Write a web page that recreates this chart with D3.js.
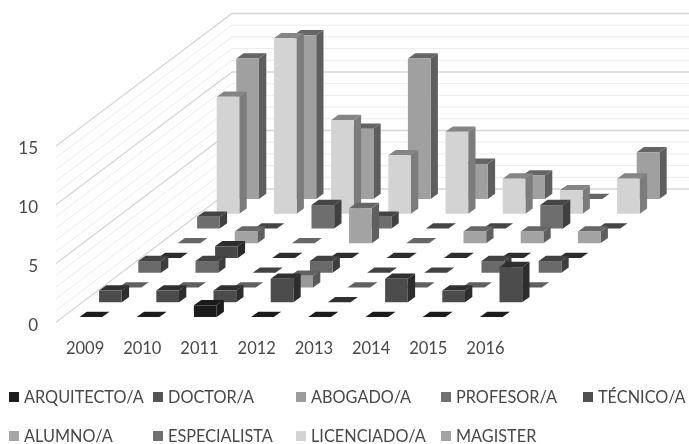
<!DOCTYPE html>
<html>
<head>
<meta charset="utf-8">
<script src="https://cdnjs.cloudflare.com/ajax/libs/d3/7.8.5/d3.min.js"></script>
<style>
  html, body { margin: 0; padding: 0; background: #fff; }
  svg { display: block; filter: blur(0.55px); }
  text { font-family: Lato, sans-serif; fill: #484848; }
  .axis .domain, .axis line { display: none; }
</style>
</head>
<body>
<div id="chart-area"></div>
<script>
// Data
let years = ["2009", "2010", "2011", "2012", "2013", "2014", "2015", "2016"];
let series = ["ARQUITECTO/A", "DOCTOR/A", "ABOGADO/A", "PROFESOR/A", "TÉCNICO/A", "ALUMNO/A", "ESPECIALISTA", "LICENCIADO/A", "MAGISTER"];

let arquitecto   = [0, 0, 1, 0, 0, 0, 0, 0];
let doctor       = [1, 1, 1, 2, 0, 2, 1, 3];
let abogado      = [0, 0, 0, 1, 0, 0, 0, 0];
let profesor     = [1, 1, 0, 1, 0, 0, 1, 1];
let tecnico      = [0, 1, 0, 0, 0, 0, 0, 0];
let alumno       = [0, 1, 0, 3, 0, 1, 1, 1];
let especialista = [1, 0, 2, 1, 0, 0, 2, 0];
let licenciado   = [10, 15, 8, 5, 7, 3, 2, 3];
let magister     = [12, 14, 6, 12, 3, 2, 0, 4];
let values = [arquitecto, doctor, abogado, profesor, tecnico, alumno, especialista, licenciado, magister];

let greys = ["#1c1c1c", "#4c4c4c", "#999999", "#696969", "#474747", "#a3a3a3", "#6e6e6e", "#d3d3d3", "#a0a0a0"];
let yTicks = [0, 5, 10, 15];

let width = 689, height = 444;

let svg = d3.select("#chart-area").append("svg")
    .attr("width", width)
    .attr("height", height);

// Scales
let x = d3.scaleBand().domain(years).range([79.5, 79.5 + 57.2 * 8]);
let depth = d3.scalePoint().domain(series).range([0, 1]);
let depthX = d3.scaleLinear().domain([0, 1]).range([0, 156.8]);
let depthY = d3.scaleLinear().domain([0, 1]).range([0, -118]);
let barHeight = d3.scaleLinear().domain([0, 15]).range([0, 175.5]);

let floorY = 317;
let barWidth = 22.7;
let skewX = 7.3, skewY = -5.3;

// Walls
let wallX0 = 56, wallX1 = 232, wallX2 = 689;
let yFront = d3.scaleLinear().domain([0, 15]).range([322.3, 146]);
let yBack = d3.scaleLinear().domain([0, 15]).range([189, 13.5]);

let grid = svg.append("g").attr("fill", "none");
d3.range(0, 16).forEach(function(v) {
    grid.append("path")
        .attr("d", "M" + wallX0 + "," + yFront(v) + "L" + wallX1 + "," + yBack(v) + "L" + wallX2 + "," + yBack(v))
        .attr("stroke", v % 5 === 0 ? "#d6d6d6" : "#ececec")
        .attr("stroke-width", v % 5 === 0 ? 1.3 : 1);
});

// Bars, back row first
let rows = d3.range(series.length).reverse();
rows.forEach(function(r) {
    let name = series[r];
    let col = d3.color(greys[r]);
    let dx = depthX(depth(name)), dy = depthY(depth(name));
    let g = svg.append("g").attr("class", "row");

    let bars = g.selectAll("g")
        .data(values[r].map((v, i) => ({year: years[i], value: v})))
        .enter().append("g")
        .attr("transform", d => "translate(" + (x(d.year) + dx) + "," + (floorY + dy) + ")");

    // side
    bars.filter(d => d.value > 0).append("path")
        .attr("d", function(d) {
            let h = barHeight(d.value);
            return "M" + barWidth + ",0L" + (barWidth + skewX) + "," + skewY +
                "L" + (barWidth + skewX) + "," + (skewY - h) + "L" + barWidth + "," + (-h) + "Z";
        })
        .attr("fill", col.darker(r === 0 ? 0 : 1.5));

    // top (flat parallelogram when the value is 0)
    bars.append("path")
        .attr("d", function(d) {
            let h = barHeight(d.value);
            return "M0," + (-h) + "L" + barWidth + "," + (-h) + "L" + (barWidth + skewX) + "," + (skewY - h) +
                "L" + skewX + "," + (skewY - h) + "Z";
        })
        .attr("fill", col.darker(r === 0 ? 0 : 1.3));

    // front
    bars.filter(d => d.value > 0).append("rect")
        .attr("x", 0)
        .attr("y", d => -barHeight(d.value))
        .attr("width", barWidth)
        .attr("height", d => barHeight(d.value))
        .attr("fill", col);
});

// Axes
let yAxis = d3.axisLeft(yFront).tickValues(yTicks).tickSize(0).tickPadding(0);
svg.append("g")
    .attr("class", "axis")
    .attr("transform", "translate(38,2.5)")
    .call(yAxis)
    .selectAll("text")
    .attr("font-size", 17)
    .style("font-family", "Lato, sans-serif");

let xAxis = d3.axisBottom(x).tickSize(0).tickPadding(0);
svg.append("g")
    .attr("class", "axis")
    .attr("transform", "translate(-23,342)")
    .call(xAxis)
    .selectAll("text")
    .attr("font-size", 16.5)
    .style("font-family", "Lato, sans-serif");

// Legend, two rows in four/five columns
let legendCols = [9, 153, 296, 441, 583];
let legendRows = [397, 436];
let legendGreys = ["#1c1c1c", "#555555", "#9c9c9c", "#707070", "#505050", "#a6a6a6", "#707070", "#d3d3d3", "#a3a3a3"];

let legend = svg.selectAll(".legend")
    .data(series)
    .enter().append("g")
    .attr("class", "legend")
    .attr("transform", (d, i) => "translate(" + legendCols[i % 5] + "," + legendRows[i < 5 ? 0 : 1] + ")");

legend.append("rect")
    .attr("x", 0).attr("y", -5)
    .attr("width", 10).attr("height", 10)
    .attr("fill", (d, i) => legendGreys[i]);

legend.append("text")
    .attr("x", 15)
    .attr("y", 6)
    .attr("font-size", 16.3)
    .text(d => d);
</script>
</body>
</html>
